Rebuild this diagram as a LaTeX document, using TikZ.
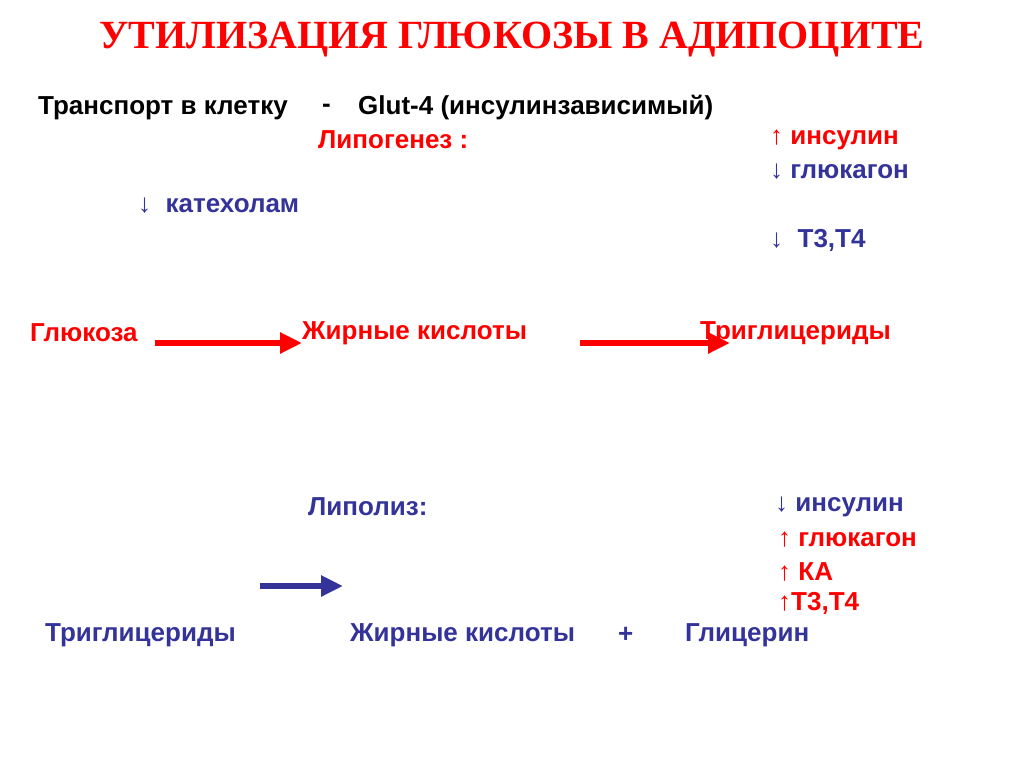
\documentclass[tikz,border=0pt]{standalone}
\usepackage{fontspec}
\setmainfont{Liberation Sans}
\newfontfamily\titlefont{Liberation Serif}
\usetikzlibrary{arrows.meta}
\definecolor{dblue}{RGB}{51,51,153}
\definecolor{rred}{RGB}{255,0,0}
\tikzset{
  txt/.style={anchor=west,font=\fontsize{26}{30}\selectfont\bfseries,text=dblue,inner sep=0pt},
  rtxt/.style={txt,text=rred},
  btxt/.style={txt,text=black},
  bigarrow/.style={line width=6pt,-{Triangle[length=22pt,width=20pt]}}
}
\begin{document}
\begin{tikzpicture}[x=1pt,y=-1pt]
\useasboundingbox (0,0) rectangle (1024,768);
\node[font=\titlefont\fontsize{40}{44}\selectfont\bfseries,text=rred] (title) at (512,40) {УТИЛИЗАЦИЯ ГЛЮКОЗЫ В АДИПОЦИТЕ};
\node[btxt] (tr) at (38,108) {Транспорт в клетку};
\node[btxt] (dash) at (322,108) {-};
\node[btxt] (glut) at (358,108) {Glut-4 (инсулинзависимый)};
\node[rtxt] (lipog) at (318,140) {Липогенез :};
\node[rtxt] (ins1) at (770,140) {↑ инсулин};
\node[txt] (glc1) at (770,172) {↓ глюкагон};
\node[txt] (kat) at (138,206) {↓ \ катехолам};
\node[txt] (t1) at (770,240) {↓ \ Т3,Т4};
\node[rtxt] (glu) at (30,333) {Глюкоза};
\node[rtxt] (fa1) at (302,333) {Жирные кислоты};
\node[rtxt] (tg1) at (700,333) {Триглицериды};
\coordinate (a1s) at (155,343); \coordinate (a1e) at (302,343);
\coordinate (a2s) at (580,343); \coordinate (a2e) at (730,343);
\draw[bigarrow,rred] (a1s) -- (a1e);
\draw[bigarrow,rred] (a2s) -- (a2e);
\node[txt] (lipol) at (308,507) {Липолиз:};
\node[txt] (ins2) at (775,507) {↓ инсулин};
\node[rtxt] (glc2) at (778,540) {↑ глюкагон};
\node[rtxt] (ka) at (778,572) {↑ КА};
\node[rtxt] (t2) at (778,603) {↑Т3,Т4};
\coordinate (a3s) at (260,586); \coordinate (a3e) at (343,586);
\draw[bigarrow,dblue] (a3s) -- (a3e);
\node[txt] (tg2) at (45,635) {Триглицериды};
\node[txt] (fa2) at (350,635) {Жирные кислоты};
\node[txt] (plus) at (618,635) {+};
\node[txt] (gly) at (685,635) {Глицерин};
\end{tikzpicture}
\end{document}
